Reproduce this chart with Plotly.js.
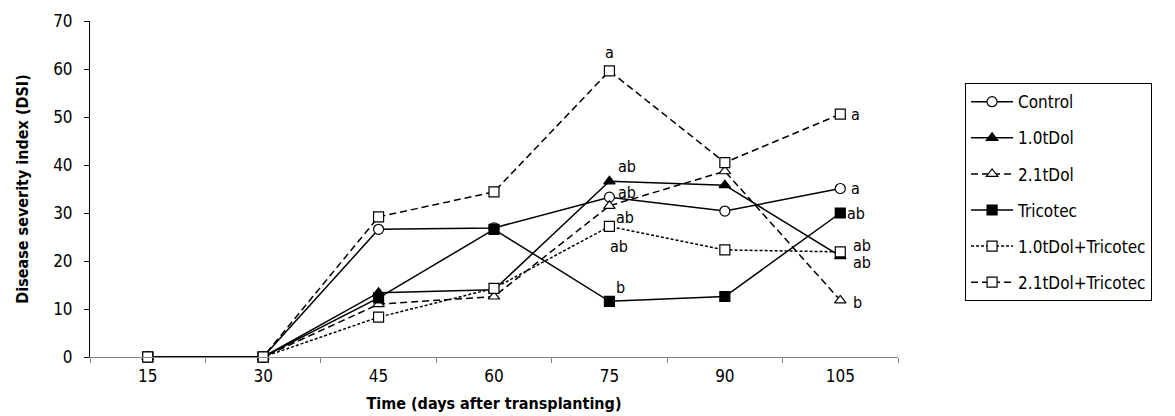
<!DOCTYPE html>
<html>
<head>
<meta charset="utf-8">
<script src="https://cdn.plot.ly/plotly-3.0.1.min.js"></script>
<style>html,body{margin:0;padding:0;background:#fff;}#chart{width:1175px;height:416px;}</style>
</head>
<body>
<div id="chart"></div>
<script>
const days = ["15", "30", "45", "60", "75", "90", "105"];
const control      = [0, 0, 26.6, 26.9, 33.3, 30.4, 35.1];
const tdol10       = [0, 0, 13.4, 14.0, 36.6, 35.8, 21.0];
const tdol21       = [0, 0, 11.0, 12.6, 31.5, 38.7, 11.8];
const tricotec     = [0, 0, 12.3, 26.6, 11.6, 12.6, 30.0];
const tdol10Tric   = [0, 0, 8.3, 14.3, 27.2, 22.3, 21.9];
const tdol21Tric   = [0, 0, 29.2, 34.4, 59.6, 40.5, 50.6];
const names = ["Control", "1.0tDol", "2.1tDol", "Tricotec", "1.0tDol+Tricotec", "2.1tDol+Tricotec"];
const letters75  = ["ab", "ab", "ab", "b", "ab", "a"];
const letters105 = ["a", "ab", "b", "ab", "ab", "a"];

const FONT = '"Liberation Sans Narrow", "Arial Narrow", "DejaVu Sans Condensed", sans-serif';
const series = [control, tdol10, tdol21, tricotec, tdol10Tric, tdol21Tric];
const styles = [
  {dash: "solid",     symbol: "circle",      fill: "#fff"},
  {dash: "solid",     symbol: "triangle-up", fill: "#000"},
  {dash: "7px,4px",   symbol: "triangle-up", fill: "#fff"},
  {dash: "solid",     symbol: "square",      fill: "#000"},
  {dash: "3px,2px",   symbol: "square",      fill: "#fff"},
  {dash: "7px,4px",   symbol: "square",      fill: "#fff"}
];

const traces = series.map((s, i) => ({
  x: days, y: s, name: names[i], type: "scatter", mode: "lines+markers",
  legendgroup: "g" + i,
  cliponaxis: false,
  line: {color: "#000", width: 1.5, dash: styles[i].dash},
  marker: {symbol: styles[i].symbol, size: 10, color: styles[i].fill,
           line: {color: "#000", width: 1.2}}
}));

// letter label offsets (pixels) relative to the marker
const off75  = [[18, 5], [18, 15], [16, -12], [11, 14], [10, -20], [0, 18]];
const off105 = [[15, 0], [22, -6], [17, -2], [16, 0], [22, 6], [15, 0]];
const annotations = [];
series.forEach((s, i) => {
  annotations.push({x: 4, y: s[4], xref: "x", yref: "y", text: letters75[i], showarrow: false,
    xshift: off75[i][0], yshift: off75[i][1], font: {family: FONT, size: 16, color: "#000"}});
  annotations.push({x: 6, y: s[6], xref: "x", yref: "y", text: letters105[i], showarrow: false,
    xshift: off105[i][0], yshift: off105[i][1], font: {family: FONT, size: 16, color: "#000"}});
});

const layout = {
  width: 1175, height: 416,
  margin: {l: 90, r: 277, t: 21, b: 59},
  paper_bgcolor: "#fff", plot_bgcolor: "#fff",
  font: {family: FONT, size: 17, color: "#000"},
  showlegend: true,
  legend: {x: 1.083, y: 0.815, xanchor: "left", yanchor: "top",
    bordercolor: "#000", borderwidth: 1, tracegroupgap: 11, itemwidth: 42,
    font: {family: FONT, size: 17, color: "#000"}},
  xaxis: {type: "category", range: [-0.5, 6.5], showgrid: false, zeroline: false,
    showline: true, linecolor: "#888", linewidth: 1,
    ticks: "outside", tickson: "boundaries", ticklen: 5, tickcolor: "#888",
    ticklabelstandoff: 4,
    tickfont: {family: FONT, size: 17},
    title: {text: "<b>Time (days after transplanting)</b>", font: {family: FONT, size: 16}, standoff: 12}},
  yaxis: {range: [0, 70], dtick: 10, showgrid: false, zeroline: false,
    showline: true, linecolor: "#000", linewidth: 1,
    ticks: "outside", ticklen: 5, tickcolor: "#000",
    ticklabelstandoff: 8,
    tickfont: {family: FONT, size: 17},
    title: {text: "<b>Disease severity index (DSI)</b>", font: {family: FONT, size: 16}, standoff: 20}},
  annotations: annotations
};

Plotly.newPlot("chart", traces, layout, {displayModeBar: false, staticPlot: true});
</script>
</body>
</html>
